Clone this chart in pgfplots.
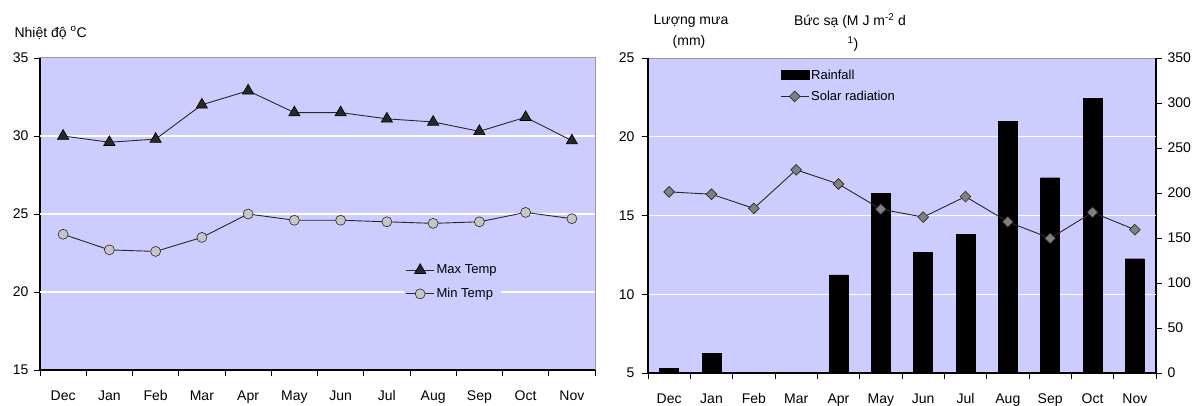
\documentclass[border=0pt]{standalone}
\usepackage{pgfplots}
\pgfplotsset{compat=1.18}
\usepackage{fontspec}
\setmainfont{Liberation Sans}
\definecolor{bgc}{RGB}{204,204,255}
\definecolor{ln}{RGB}{40,40,40}
\begin{document}
\begin{tikzpicture}
\pgfplotsset{
 common/.style={scale only axis, xmin=-0.5, xmax=11.5,
  /pgf/number format/assume math mode=true,
  axis line style={-, black, line width=1.1pt},
  tick align=outside, major tick length=6pt,
  tick style={black, line width=0.9pt},
  xtick={-0.5,0.5,...,11.5}, xticklabels={},
  extra x ticks={0,1,...,11},
  extra x tick labels={Dec,Jan,Feb,Mar,Apr,May,Jun,Jul,Aug,Sep,Oct,Nov},
  extra x tick style={major tick length=0pt},
  xticklabel style={yshift=-17pt},
  ticklabel style={font=\fontsize{14}{16}\selectfont, text=black},
  legend style={draw=none, fill=bgc, font=\fontsize{13}{15}\selectfont, row sep=9pt, inner sep=2pt},
  legend cell align=left,
  legend image code/.code={\draw[mark repeat=2,mark phase=2,##1] plot coordinates {(0pt,0pt) (14pt,0pt) (28pt,0pt)};},
  axis background/.style={fill=bgc, draw=gray!80, line width=1pt},
 },
 gridy/.style={extra y tick labels={}, extra y tick style={major tick length=0pt, ymajorgrids, major grid style={white, line width=1.3pt}}},
}
% ---------------- left chart
\begin{axis}[common, at={(40pt,35pt)}, anchor=south west, width=555pt, height=312pt,
 ymin=15, ymax=35, ytick={15,20,...,35},
 extra y ticks={20,25,30}, gridy,
 axis x line*=bottom, axis y line*=left,
 yticklabel style={xshift=-2pt},
 legend style={at={(0.655,0.35)}, anchor=north west},
]
\addplot[ln, line width=0.9pt, mark=triangle*, mark size=6.5pt, mark options={fill=ln, draw=black, line width=0.6pt}]
 coordinates {(0,30.0) (1,29.6) (2,29.8) (3,32.0) (4,32.9) (5,31.5) (6,31.5) (7,31.1) (8,30.9) (9,30.3) (10,31.2) (11,29.7)};
\addlegendentry{Max Temp}
\addplot[ln, line width=0.9pt, mark=*, mark size=5pt, mark options={fill=gray!45, draw=ln, line width=0.6pt}]
 coordinates {(0,23.7) (1,22.7) (2,22.6) (3,23.5) (4,25.0) (5,24.6) (6,24.6) (7,24.5) (8,24.4) (9,24.5) (10,25.1) (11,24.7)};
\addlegendentry{Min Temp}
\end{axis}
% ---------------- right chart: bars (right axis)
\begin{axis}[common, at={(648pt,32pt)}, anchor=south west, width=508pt, height=315pt,
 ymin=0, ymax=350, ytick={0,50,...,350},
 extra y ticks={87.5,175,262.5}, gridy,
 axis x line*=bottom, axis y line*=right,
 yticklabel style={xshift=2pt},
]
\addplot[ybar, bar width=19pt, fill=black, draw=black]
 coordinates {(0,5.5) (1,22) (2,0) (3,0) (4,109) (5,200) (6,134) (7,154) (8,280) (9,217) (10,305) (11,127)};
\end{axis}
% ---------------- right chart: solar radiation (left axis)
\begin{axis}[scale only axis, at={(648pt,32pt)}, anchor=south west, width=508pt, height=315pt,
 xmin=-0.5, xmax=11.5, ymin=5, ymax=25, ytick={5,10,...,25}, xtick=\empty,
 /pgf/number format/assume math mode=true,
 axis x line=none, axis y line*=left,
 axis line style={-, black, line width=1.1pt},
 tick align=outside, major tick length=6pt,
 tick style={black, line width=0.9pt},
 ticklabel style={font=\fontsize{14}{16}\selectfont, text=black},
 yticklabel style={xshift=-4pt},
 legend style={draw=none, fill=none, font=\fontsize{13}{15}\selectfont, row sep=6pt, inner sep=2pt, at={(0.256,0.975)}, anchor=north west},
 legend cell align=left,
 legend image code/.code={\draw[mark repeat=2,mark phase=2,#1] plot coordinates {(0pt,0pt) (14pt,0pt) (28pt,0pt)};},
]
\addlegendimage{legend image code/.code={\fill[black] (0pt,-4pt) rectangle (28pt,5pt);}}
\addlegendentry{Rainfall}
\addplot[ln, line width=0.9pt, mark=square*, mark size=3.8pt, mark options={rotate=45, fill=gray!100, draw=ln, line width=0.6pt}]
 coordinates {(0,16.5) (1,16.35) (2,15.45) (3,17.9) (4,17.0) (5,15.4) (6,14.9) (7,16.2) (8,14.6) (9,13.55) (10,15.2) (11,14.1)};
\addlegendentry{Solar radiation}
\end{axis}
% ---------------- headings
\node[anchor=west, font=\fontsize{14}{16}\selectfont] at (11pt,372pt) {Nhiệt độ \textsuperscript{o}C};
\node[font=\fontsize{14}{16}\selectfont] at (691pt,384pt) {Lượng mưa};
\node[font=\fontsize{14}{16}\selectfont] at (689pt,363pt) {(mm)};
\node[font=\fontsize{14}{16}\selectfont] at (850pt,384pt) {Bức sạ (M J m\textsuperscript{-2} d};
\node[font=\fontsize{14}{16}\selectfont] at (853pt,361pt) {\textsuperscript{1})};
\pgfresetboundingbox
\path[use as bounding box] (0pt,0pt) rectangle (1195pt,405pt);
\end{tikzpicture}
\end{document}
